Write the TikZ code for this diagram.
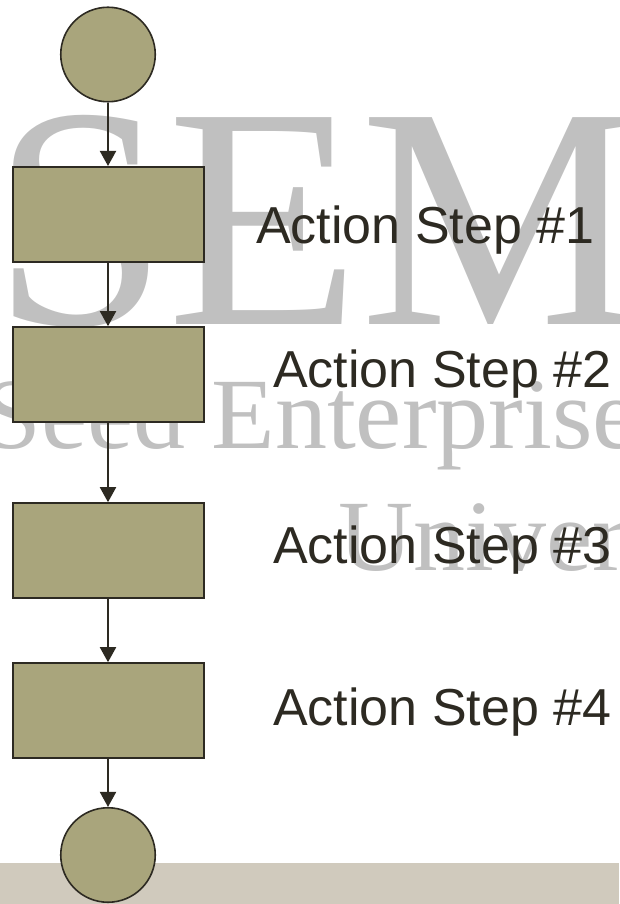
\documentclass[tikz,border=0pt]{standalone}
\usepackage{fontspec}
\newfontfamily\labelfont{Liberation Sans}
\newfontfamily\wmfont{Liberation Serif}
\usetikzlibrary{arrows.meta}
\definecolor{boxfill}{HTML}{A9A57C}
\definecolor{boxline}{HTML}{2D2A22}
\definecolor{wm}{HTML}{C0C0C0}
\definecolor{band}{HTML}{D0CABD}
\begin{document}
\begin{tikzpicture}[x=1pt,y=-1pt,
  stepbox/.style={rectangle, draw=boxline, line width=2pt, fill=boxfill,
    minimum width=191pt, minimum height=95pt, inner sep=0pt},
  endcircle/.style={circle, draw=boxline, line width=1.6pt, fill=boxfill,
    minimum size=94.5pt, inner sep=0pt},
  flow/.style={draw=boxline, line width=2pt, -{Triangle[length=15pt,width=16pt]}},
  steplabel/.style={anchor=base west, inner sep=0pt, text=boxline,
    font=\labelfont\fontsize{52}{60}\selectfont},
  wmbig/.style={anchor=base west, inner sep=0pt, text=wm,
    font=\wmfont\fontsize{316}{320}\selectfont},
  wmtext/.style={anchor=base west, inner sep=0pt, text=wm, xscale=1.03,
    font=\wmfont\fontsize{101}{110}\selectfont}]
\useasboundingbox (0,0) rectangle (619,904);
% watermark
\begin{scope}
  \clip (0,0) rectangle (619,904);
  \node[wmbig] (wm1) at (-8,324) {SEM};
  \node[wmtext] (wm2) at (-17,448) {Seed Enterprise};
  \node[wmtext] (wm3) at (338.5,570) {Univer};
\end{scope}
% bottom band
\fill[band] (0,862.7) rectangle (619,904);
% flow
\node[endcircle] (c0) at (108,54.5) {};
\node[stepbox] (r1) at (108,214.5) {};
\node[stepbox] (r2) at (108,374.7) {};
\node[stepbox] (r3) at (108,550.7) {};
\node[stepbox] (r4) at (108,710.7) {};
\node[endcircle] (c1) at (108,855) {};
\draw[flow] (c0) -- (r1);
\draw[flow] (r1) -- (r2);
\draw[flow] (r2) -- (r3);
\draw[flow] (r3) -- (r4);
\draw[flow] (r4) -- (c1);
% labels
\node[steplabel] (l1) at (256,243) {Action Step \#1};
\node[steplabel] (l2) at (273,387.5) {Action Step \#2};
\node[steplabel] (l3) at (273,563.5) {Action Step \#3};
\node[steplabel] (l4) at (273,725) {Action Step \#4};
\end{tikzpicture}
\end{document}
